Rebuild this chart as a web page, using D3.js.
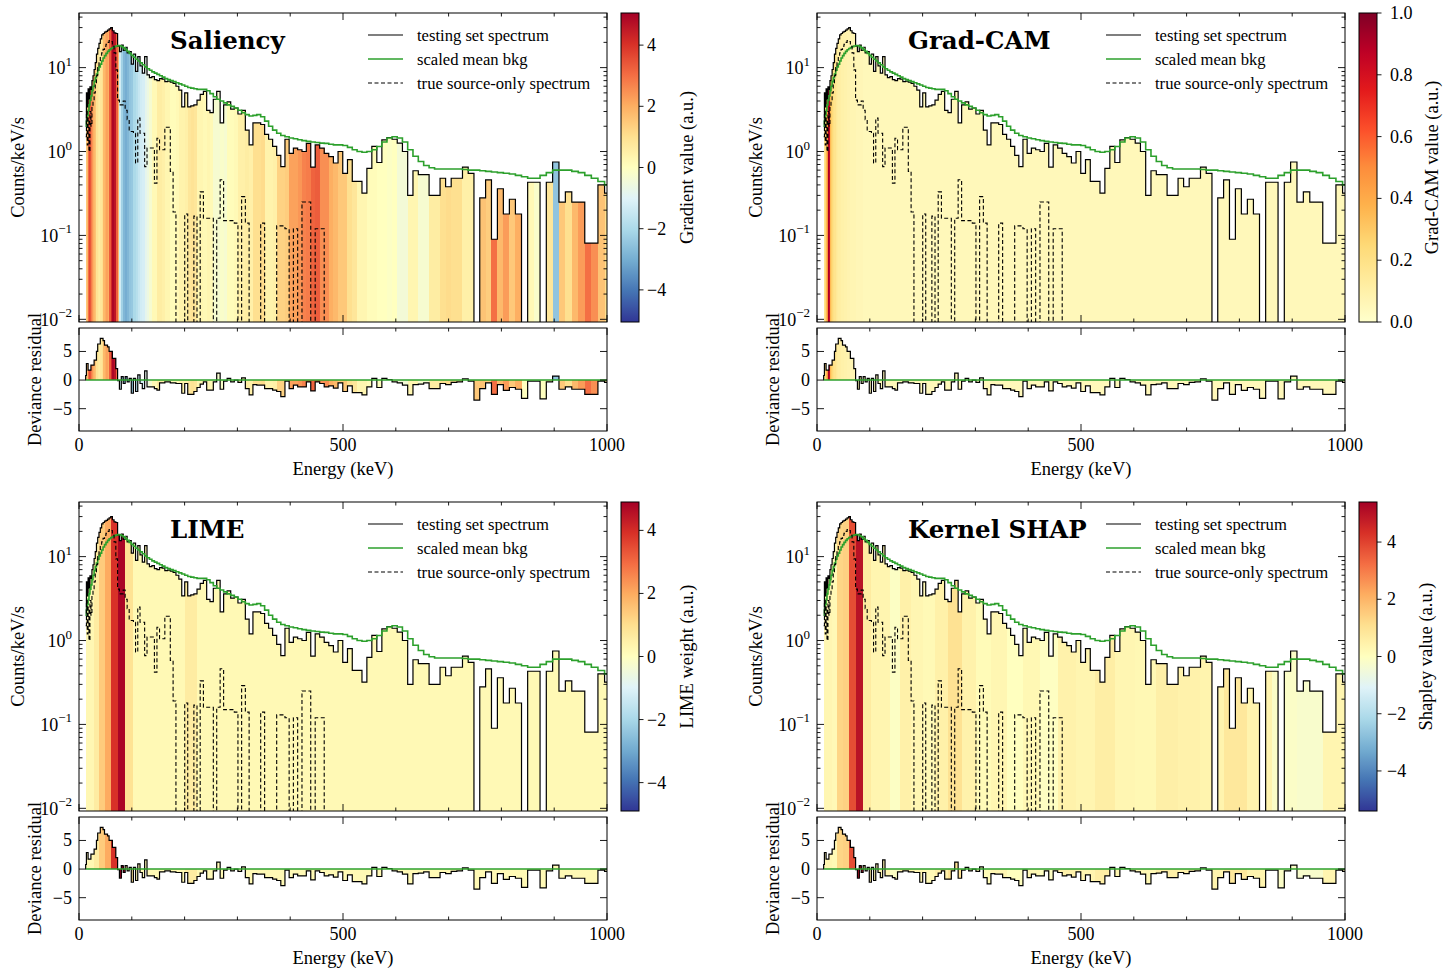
<!DOCTYPE html>
<html>
<head>
<meta charset="utf-8">
<script src="https://cdn.jsdelivr.net/npm/d3@7"></script>
<style>
  body { margin: 0; background: #fff; }
  svg { font-family: "Liberation Serif", "Times New Roman", serif; }
</style>
</head>
<body>
<svg id="chart" width="1449" height="970"></svg>
<script>
// energy bin edges (keV)
const edges = [
  12.60, 14.06, 15.60, 17.22, 18.92, 20.70, 22.56, 24.50, 26.52, 28.62,
  30.80, 33.06, 35.40, 37.82, 40.32, 42.90, 45.56, 48.30, 51.12, 54.02,
  57.00, 60.06, 63.20, 66.42, 69.72, 73.10, 76.56, 80.10, 83.72, 87.42,
  91.20, 95.06, 99.00, 103.02, 107.12, 111.30, 115.56, 119.90, 124.32, 128.82,
  133.40, 138.06, 142.80, 147.62, 152.52, 157.50, 162.56, 167.70, 172.92, 178.22,
  183.60, 189.06, 194.60, 200.22, 205.92, 211.70, 217.56, 223.50, 229.52, 235.62,
  241.80, 248.06, 254.40, 260.82, 267.32, 273.90, 280.56, 287.30, 294.12, 301.02,
  308.00, 315.06, 322.20, 329.42, 336.72, 344.10, 351.56, 359.10, 366.72, 374.42,
  382.20, 390.06, 398.00, 406.02, 414.12, 422.30, 430.56, 438.90, 447.32, 455.82,
  464.40, 473.06, 481.80, 490.62, 499.52, 508.50, 517.56, 526.70, 535.92, 545.22,
  554.60, 564.06, 573.60, 583.22, 592.92, 602.70, 612.56, 622.50, 632.52, 642.62,
  652.80, 663.06, 673.40, 683.82, 694.32, 704.90, 715.56, 726.30, 737.12, 748.02,
  759.00, 770.06, 781.20, 792.42, 803.72, 815.10, 826.56, 838.10, 849.72, 861.42,
  873.20, 885.06, 897.00, 909.02, 921.12, 933.30, 945.56, 957.90, 970.32, 982.82,
  995.40, 1008.06
];

// testing set spectrum (counts/keV/s)
const testSpec = [
  2.0, 5.0, 3.4, 5.6, 4.2, 5.9, 5.5, 7.0, 8.0, 9.5,
  11.5, 14.5, 17, 19.5, 22, 24.5, 25.5, 26.5, 27, 28,
  29, 30, 27.5, 26, 25.5, 18, 15.5, 18.5, 16, 17.5,
  15, 15.5, 11, 14.5, 9.0, 13.5, 10.5, 8.6, 13.5, 8.2,
  7.6, 7.8, 7.2, 7.0, 7.4, 7.3, 6.8, 6.9, 6.7, 6.5,
  6.0, 5.4, 3.4, 5.0, 3.4, 3.5, 3.6, 4.1, 4.8, 5.2,
  3.1, 2.9, 4.2, 5.2, 2.2, 3.6, 3.9, 3.2, 3.3, 2.8,
  3.1, 1.8, 1.2, 2.2, 2.2, 2.1, 1.6, 1.4, 1.15, 0.9,
  0.66, 1.4, 0.95, 1.1, 1.05, 1.0, 1.25, 0.65, 1.2, 1.1,
  0.95, 0.87, 0.73, 1.0, 0.55, 0.8, 0.44, 0.44, 0.32, 0.63,
  1.15, 0.74, 1.38, 1.47, 1.40, 1.26, 1.0, 0.30, 0.59, 0.53,
  0.53, 0.30, 0.30, 0.48, 0.38, 0.48, 0.48, 0.65, 0.55, 0,
  0.28, 0.46, 0.09, 0.36, 0.18, 0.27, 0.18, 0, 0.43, 0.43,
  0, 0.43, 0.75, 0.25, 0.33, 0.25, 0.25, 0.081, 0.081, 0.40,
  0.32
];

// scaled mean background
const meanBkg = [
  2.0, 2.3, 2.7, 3.1, 3.6, 4.1, 4.6, 5.3, 6.0, 6.8,
  7.6, 8.4, 9.3, 10.2, 11.0, 12.0, 13.0, 13.9, 14.8, 15.6,
  16.3, 16.9, 17.4, 17.8, 18.1, 18.3, 18.2, 17.8, 17.2, 16.4,
  15.6, 14.8, 14.0, 13.3, 12.6, 12.0, 11.4, 10.8, 10.2, 9.7,
  9.3, 8.9, 8.6, 8.3, 8.0, 7.7, 7.4, 7.2, 7.0, 6.8,
  6.6, 6.4, 6.2, 6.0, 5.8, 5.7, 5.6, 5.5, 5.5, 5.5,
  5.3, 4.9, 4.5, 4.2, 4.0, 3.8, 3.6, 3.45, 3.3, 3.1,
  2.9, 2.75, 2.65, 2.7, 2.75, 2.6, 2.3, 2.0, 1.8, 1.65,
  1.55, 1.5, 1.45, 1.42, 1.38, 1.35, 1.32, 1.3, 1.28, 1.26,
  1.25, 1.22, 1.2, 1.2, 1.18, 1.12, 1.05, 1.0, 0.98, 1.0,
  1.05, 1.15, 1.3, 1.45, 1.5, 1.45, 1.3, 1.05, 0.88, 0.76,
  0.68, 0.64, 0.62, 0.62, 0.62, 0.62, 0.62, 0.61, 0.6, 0.6,
  0.59, 0.58, 0.57, 0.56, 0.55, 0.54, 0.52, 0.5, 0.48, 0.48,
  0.52, 0.56, 0.6, 0.6, 0.6, 0.58, 0.56, 0.52, 0.48, 0.44,
  0.4
];

// true source-only spectrum (0 = empty bin)
const sourceOnly = [
  1.5, 3.0, 1.2, 2.5, 1.0, 3.0, 2.0, 3.5, 4.0, 5.0,
  6.5, 8.0, 10, 12, 13.5, 15, 16.5, 18, 19, 20,
  21, 20.5, 18, 15, 9.4, 4.1, 3.6, 3.6, 4.0, 3.1,
  2.4, 1.73, 1.73, 1.65, 0.73, 2.5, 1.65, 1.65, 0.66, 1.1,
  1.1, 1.1, 0.42, 1.44, 1.05, 1.05, 1.95, 1.95, 0.58, 0.19,
  0, 0, 0, 0.18, 0, 0, 0.17, 0, 0.33, 0.16,
  0.16, 0.16, 0, 0.16, 0.46, 0.15, 0.15, 0.15, 0.14, 0,
  0.29, 0.14, 0, 0, 0, 0.14, 0, 0, 0, 0.13,
  0.13, 0.12, 0, 0.12, 0, 0.25, 0.25, 0, 0.12, 0.12,
  0, 0, 0, 0, 0, 0, 0, 0, 0, 0,
  0, 0, 0, 0, 0, 0, 0, 0, 0, 0,
  0, 0, 0, 0, 0, 0, 0, 0, 0, 0,
  0, 0, 0, 0, 0, 0, 0, 0, 0, 0,
  0, 0, 0, 0, 0, 0, 0, 0, 0, 0,
  0
];

// deviance residual of testing spectrum vs background
const devResid = [
  0.8, 2.9, 2.9, 1.75, 1.75, 1.75, 2.6, 2.6, 2.6, 3.5,
  3.5, 5.0, 6.3, 6.3, 7.3, 7.3, 6.9, 6.1, 6.1, 5.8,
  5.0, 5.0, 3.8, 3.8, 2.0, -0.1, -1.6, 0.6, -0.6, 0.6,
  -0.3, 0.3, -2.3, 0.3, -2.0, 0.9, -0.6, -1.5, 1.6, -1.2,
  -1.2, -1.2, -1.5, -1.75, -0.5, -0.5, -0.3, -0.3, -0.5, -0.5,
  -0.6, -0.6, -2.3, -0.6, -2.5, -2.5, -2.0, -1.3, -0.7, -0.3,
  -1.75, -1.75, -0.3, 1.2, -1.6, -0.2, 0.3, -0.3, 0.0, -0.4,
  0.4, -1.5, -2.6, -0.8, -0.9, -0.9, -1.5, -1.5, -1.75, -2.0,
  -2.9, -0.2, -1.5, -0.9, -1.2, -1.2, -0.3, -1.9, -0.3, -0.6,
  -1.2, -1.0, -1.4, -0.5, -2.0, -1.0, -2.2, -2.2, -2.6, -1.2,
  0.3, -1.3, 0.3, 0.1, -0.3, -0.5, -0.9, -2.6, -0.8, -0.7,
  -0.5, -1.5, -1.5, -0.6, -0.8, -0.4, -0.3, 0.2, -0.2, -3.5,
  -1.5, -0.5, -2.5, -0.8, -1.8, -1.3, -1.6, -3.2, -0.2, -0.2,
  -3.3, -0.3, 0.7, -1.6, -1.2, -1.6, -1.6, -2.5, -2.5, -0.2,
  -0.4
];

// attribution per bin
const saliency = [
  1.2, 1.5, 1.8, 3.0, 3.6, 3.4, 2.8, 2.4, 2.0, 1.8,
  1.6, 0.9, 0.7, 0.6, 0.8, 1.0, 1.8, 2.0, 2.2, 2.0,
  3.3, 4.2, 4.9, 4.6, 3.2, 1.8, -1.3, -2.2, -2.8, -3.0,
  -2.8, -2.5, -2.4, -2.0, -1.8, -1.5, -1.3, -1.2, -0.8, -0.6,
  -0.3, 0.2, 0.2, 0.6, 0.6, 0.5, 0.3, 0.3, 0.1, 0.1,
  0.2, 0.4, 0.4, 0.5, 0.8, 0.9, 0.8, 0.3, 0.3, 0.2,
  0.3, 0.2, -0.3, -0.3, -0.2, -0.3, 0.1, 0.1, 0.2, 0.5,
  0.5, 0.6, 0.5, 1.0, 1.0, 1.1, 0.4, 0.4, 0.5, 1.3,
  1.3, 1.4, 2.2, 2.2, 2.4, 2.7, 2.8, 3.2, 3.3, 2.5,
  2.5, 2.0, 1.8, 1.5, 1.5, 1.0, 0.8, 0.3, 0.3, 0.1,
  0.1, 0.0, 0.0, -0.1, 0.0, -0.4, -0.4, 0.3, 0.3, -0.3,
  -0.3, 0.6, 0.6, 1.0, 1.1, 1.0, 1.0, 0.5, 0.5, 1.5,
  1.6, 1.4, 3.0, 1.8, 2.3, 1.5, 2.0, 0.0, 0.2, -0.2,
  0.0, 0.8, -2.5, 1.5, 1.0, 1.8, 2.3, 3.0, 2.5, 1.6,
  1.0
];

const gradcam = [
  0.12, 0.18, 0.25, 0.35, 0.5, 0.92, 0.85, 0.35, 0.28, 0.24,
  0.2, 0.18, 0.15, 0.13, 0.12, 0.11, 0.1, 0.1, 0.09, 0.09,
  0.08, 0.08, 0.07, 0.07, 0.07, 0.06, 0.06, 0.06, 0.06, 0.05,
  0.05, 0.05, 0.05, 0.05, 0.05, 0.05, 0.05, 0.05, 0.05, 0.05,
  0.05, 0.05, 0.05, 0.05, 0.05, 0.05, 0.05, 0.05, 0.05, 0.05,
  0.05, 0.05, 0.05, 0.05, 0.05, 0.05, 0.05, 0.05, 0.05, 0.05,
  0.05, 0.05, 0.05, 0.05, 0.05, 0.05, 0.05, 0.05, 0.05, 0.05,
  0.05, 0.05, 0.05, 0.05, 0.05, 0.05, 0.05, 0.05, 0.05, 0.05,
  0.05, 0.05, 0.05, 0.05, 0.05, 0.05, 0.05, 0.05, 0.05, 0.05,
  0.05, 0.05, 0.05, 0.05, 0.05, 0.05, 0.05, 0.05, 0.05, 0.05,
  0.05, 0.05, 0.05, 0.05, 0.05, 0.05, 0.05, 0.05, 0.05, 0.05,
  0.05, 0.05, 0.05, 0.05, 0.05, 0.05, 0.05, 0.05, 0.05, 0.05,
  0.05, 0.05, 0.05, 0.05, 0.05, 0.05, 0.05, 0.05, 0.05, 0.05,
  0.05, 0.05, 0.05, 0.05, 0.05, 0.05, 0.05, 0.05, 0.05, 0.05,
  0.05
];

// LIME and Kernel SHAP work on segments: bin 0, then groups of 4 bins
const limeSeg = [
  0.2, 0.25, 0.25, 0.6, 1.4, 2.0, 3.9, 4.8, 0.9, 0.2,
  0.2, 0.2, 0.2, 0.2, 0.6, 0.2, 0.2, 0.2, 0.2, 0.2,
  0.2, 0.2, 0.2, 0.2, 0.2, 0.2, 0.2, 0.2, 0.2, 0.2,
  0.2, 0.2, 0.2, 0.2, 0.2, 0.2
];
const shapSeg = [
  0.3, 0.3, 0.3, 0.2, 1.3, 1.4, 3.8, 5.0, 0.7, 0.35,
  0.35, -0.1, 0.5, 0.3, 0.2, 0.5, 1.0, 0.45, 0.15, 0.3,
  0.0, 0.25, -0.05, 0.45, 0.35, 0.6, 0.3, 0.25, 0.55, 0.45,
  0.4, 0.8, 0.4, -0.15, -0.25, 0.35
];
const segOf = i => (i === 0 ? 0 : Math.floor((i - 1) / 4) + 1);
const lime = testSpec.map((_, i) => limeSeg[segOf(i)]);
const shap = testSpec.map((_, i) => shapSeg[segOf(i)]);

const rdylbuR = ["#313695", "#4575b4", "#74add1", "#abd9e9", "#e0f3f8", "#ffffbf",
                 "#fee090", "#fdae61", "#f46d43", "#d73027", "#a50026"];
const ylorrd = ["#ffffcc", "#ffeda0", "#fed976", "#feb24c", "#fd8d3c", "#fc4e2a",
                "#e31a1c", "#bd0026", "#800026"];

const legendItems = [
  { label: "testing set spectrum", color: "#000", dash: null, w: 1.2 },
  { label: "scaled mean bkg", color: "#2ca02c", dash: null, w: 1.6 },
  { label: "true source-only spectrum", color: "#000", dash: "4,2.5", w: 1.1 }
];

const panels = [
  { title: "Saliency", values: saliency, colors: rdylbuR, lo: -5.05, hi: 5.05,
    cticks: [-4, -2, 0, 2, 4], cfmt: d3.format("d"), clabel: "Gradient value (a.u.)",
    left: 79, top: 13, clabelDx: 614, ctPad: 8 },
  { title: "Grad-CAM", values: gradcam, colors: ylorrd, lo: 0, hi: 1,
    cticks: [0, 0.2, 0.4, 0.6, 0.8, 1.0], cfmt: d3.format(".1f"), clabel: "Grad-CAM value (a.u.)",
    left: 817, top: 13, clabelDx: 621, ctPad: 13 },
  { title: "LIME", values: lime, colors: rdylbuR, lo: -4.9, hi: 4.9,
    cticks: [-4, -2, 0, 2, 4], cfmt: d3.format("d"), clabel: "LIME weight (a.u.)",
    left: 79, top: 502, clabelDx: 614, ctPad: 8 },
  { title: "Kernel SHAP", values: shap, colors: rdylbuR, lo: -5.4, hi: 5.4,
    cticks: [-4, -2, 0, 2, 4], cfmt: d3.format("d"), clabel: "Shapley value (a.u.)",
    left: 817, top: 502, clabelDx: 615, ctPad: 10 }
];

const svg = d3.select("#chart");
const defs = svg.append("defs");
const W = 528, MH = 309, RGAP = 315, RH = 103;
const MAJ = 7, MIN = 3.5;
const TICK_FS = 18, LABEL_FS = 18.5;

function colorScale(stops, lo, hi) {
  return d3.scaleLinear()
    .domain(stops.map((_, i) => lo + (hi - lo) * i / (stops.length - 1)))
    .range(stops)
    .interpolate(d3.interpolateRgb)
    .clamp(true);
}

function tick(g, x1, y1, x2, y2) {
  g.append("line").attr("x1", x1).attr("y1", y1).attr("x2", x2).attr("y2", y2)
    .attr("stroke", "#000").attr("stroke-width", 0.9);
}

function drawPanel(p, idx) {
  const g = svg.append("g");
  const x = d3.scaleLinear().domain([0, 1000]).range([p.left, p.left + W]);
  const yB = p.top + MH;
  const y = d3.scaleLog().domain([Math.pow(10, -2.032), Math.pow(10, 1.651)]).range([yB, p.top]);
  const rTop = p.top + RGAP, rB = rTop + RH;
  const ry = d3.scaleLinear().domain([-8.9, 9.1]).range([rB, rTop]);
  const color = colorScale(p.colors, p.lo, p.hi);
  const yv = v => (v > 0 ? y(v) : yB + 40);

  // clip paths
  defs.append("clipPath").attr("id", "cm" + idx).append("rect")
    .attr("x", p.left).attr("y", p.top).attr("width", W).attr("height", MH);
  defs.append("clipPath").attr("id", "cr" + idx).append("rect")
    .attr("x", p.left).attr("y", rTop).attr("width", W).attr("height", RH);

  const bins = testSpec.map((s, i) => ({ i, x0: edges[i], x1: edges[i + 1], s, a: p.values[i], r: devResid[i] }));

  // ---- main spectrum panel
  const main = g.append("g").attr("clip-path", `url(#cm${idx})`);
  main.selectAll(".cell")
    .data(bins.filter(d => d.s > 0))
    .join("rect")
    .attr("class", "cell")
    .attr("x", d => x(d.x0))
    .attr("width", d => x(d.x1) - x(d.x0) + 0.3)
    .attr("y", d => y(d.s))
    .attr("height", d => yB - y(d.s))
    .attr("fill", d => color(d.a))
    .attr("shape-rendering", "crispEdges");

  const line = d3.line();
  const stepPts = (vals, yf) => vals.flatMap((v, i) => [[x(edges[i]), yf(v)], [x(edges[i + 1]), yf(v)]]);

  main.append("path").attr("d", line(stepPts(testSpec, yv)))
    .attr("fill", "none").attr("stroke", "#000").attr("stroke-width", 1.2);
  main.append("path").attr("d", line(stepPts(meanBkg, yv)))
    .attr("fill", "none").attr("stroke", "#2ca02c").attr("stroke-width", 1.6);
  main.append("path").attr("d", line(stepPts(sourceOnly, yv)))
    .attr("fill", "none").attr("stroke", "#000").attr("stroke-width", 1.1)
    .attr("stroke-dasharray", "4,2.5");

  // ---- residual panel
  const res = g.append("g").attr("clip-path", `url(#cr${idx})`);
  res.selectAll(".rcell")
    .data(bins)
    .join("rect")
    .attr("class", "rcell")
    .attr("x", d => x(d.x0))
    .attr("width", d => x(d.x1) - x(d.x0) + 0.3)
    .attr("y", d => Math.min(ry(0), ry(d.r)))
    .attr("height", d => Math.abs(ry(d.r) - ry(0)))
    .attr("fill", d => color(d.a))
    .attr("shape-rendering", "crispEdges");
  const rPts = [[x(edges[0]), ry(0)]].concat(stepPts(devResid, ry));
  res.append("path").attr("d", line(rPts))
    .attr("fill", "none").attr("stroke", "#000").attr("stroke-width", 1.2);
  res.append("line")
    .attr("x1", x(edges[0])).attr("x2", x(edges[edges.length - 1]))
    .attr("y1", ry(0)).attr("y2", ry(0))
    .attr("stroke", "#2ca02c").attr("stroke-width", 1.6);

  // ---- frames
  [[p.top, MH], [rTop, RH]].forEach(([t, h]) => {
    g.append("rect").attr("x", p.left).attr("y", t).attr("width", W).attr("height", h)
      .attr("fill", "none").attr("stroke", "#000").attr("stroke-width", 1);
  });

  // ---- x ticks (in, both sides)
  const xt = g.append("g");
  d3.range(0, 1001, 100).forEach(v => {
    const len = v % 500 === 0 ? MAJ : MIN;
    [[p.top, yB], [rTop, rB]].forEach(([t, b]) => {
      tick(xt, x(v), b, x(v), b - len);
      tick(xt, x(v), t, x(v), t + len);
    });
  });
  [0, 500, 1000].forEach(v => {
    g.append("text").attr("x", x(v)).attr("y", rB + 20)
      .attr("text-anchor", "middle").attr("font-size", TICK_FS).text(v);
  });
  g.append("text").attr("x", p.left + W / 2).attr("y", rB + 44)
    .attr("text-anchor", "middle").attr("font-size", LABEL_FS).text("Energy (keV)");

  // ---- log y ticks
  const yt = g.append("g");
  const [ylo, yhi] = y.domain();
  for (let d = -3; d <= 1; d++) {
    for (let k = 1; k <= 9; k++) {
      const v = k * Math.pow(10, d);
      if (v < ylo || v > yhi) continue;
      const len = k === 1 ? MAJ : MIN;
      tick(yt, p.left, y(v), p.left + len, y(v));
      tick(yt, p.left + W, y(v), p.left + W - len, y(v));
      if (k === 1) {
        const t = g.append("text").attr("x", p.left - 7).attr("y", y(v) + 6.5)
          .attr("text-anchor", "end").attr("font-size", TICK_FS);
        t.append("tspan").text("10");
        t.append("tspan").attr("dy", -8.5).attr("font-size", 13)
          .text(d < 0 ? "\u2212" + Math.abs(d) : String(d));
      }
    }
  }
  g.append("text")
    .attr("transform", `translate(${p.left - 55},${p.top + MH / 2}) rotate(-90)`)
    .attr("text-anchor", "middle").attr("font-size", LABEL_FS).text("Counts/keV/s");

  // ---- residual y ticks
  [-5, 0, 5].forEach(v => {
    tick(yt, p.left, ry(v), p.left + MAJ, ry(v));
    tick(yt, p.left + W, ry(v), p.left + W - MAJ, ry(v));
    g.append("text").attr("x", p.left - 7).attr("y", ry(v) + 6)
      .attr("text-anchor", "end").attr("font-size", TICK_FS)
      .text(d3.format("d")(v));
  });
  g.append("text")
    .attr("transform", `translate(${p.left - 38},${rTop + RH / 2}) rotate(-90)`)
    .attr("text-anchor", "middle").attr("font-size", LABEL_FS).text("Deviance residual");

  // ---- title
  g.append("text").attr("x", p.left + 91).attr("y", p.top + 35.5)
    .attr("font-family", "'DejaVu Serif', serif").attr("font-weight", "bold")
    .attr("font-size", 24.5).text(p.title);

  // ---- legend
  legendItems.forEach((it, k) => {
    const ly = p.top + 22 + k * 24;
    g.append("line").attr("x1", p.left + 289).attr("x2", p.left + 324)
      .attr("y1", ly).attr("y2", ly)
      .attr("stroke", it.color).attr("stroke-width", it.w)
      .attr("stroke-dasharray", it.dash);
    g.append("text").attr("x", p.left + 338).attr("y", ly + 5.5)
      .attr("font-size", 16.6).text(it.label);
  });

  // ---- colorbar
  const cbx = p.left + 542, cbw = 18;
  const gid = "grad" + idx;
  const lg = defs.append("linearGradient").attr("id", gid)
    .attr("x1", 0).attr("y1", 1).attr("x2", 0).attr("y2", 0);
  d3.range(0, 61).forEach(j => {
    const t = j / 60;
    lg.append("stop").attr("offset", t).attr("stop-color", color(p.lo + (p.hi - p.lo) * t));
  });
  g.append("rect").attr("x", cbx).attr("y", p.top).attr("width", cbw).attr("height", MH)
    .attr("fill", `url(#${gid})`).attr("stroke", "#000").attr("stroke-width", 1);
  const cy = d3.scaleLinear().domain([p.lo, p.hi]).range([yB, p.top]);
  p.cticks.forEach(v => {
    tick(g, cbx + cbw, cy(v), cbx + cbw + 4.5, cy(v));
    g.append("text").attr("x", cbx + cbw + p.ctPad).attr("y", cy(v) + 6)
      .attr("font-size", TICK_FS).text(p.cfmt(v));
  });
  g.append("text")
    .attr("transform", `translate(${p.left + p.clabelDx},${p.top + MH / 2}) rotate(-90)`)
    .attr("text-anchor", "middle").attr("font-size", LABEL_FS).text(p.clabel);
}

panels.forEach(drawPanel);
</script>
</body>
</html>
